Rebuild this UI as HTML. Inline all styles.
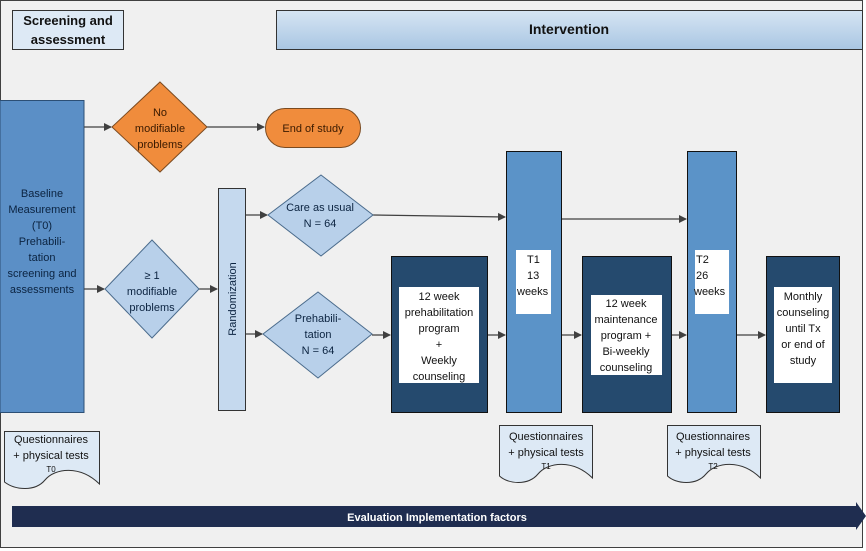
<!DOCTYPE html>
<html><head><style>body{margin:0;background:#fff}svg{display:block}text{font-family:"Liberation Sans",sans-serif}</style></head><body>
<svg width="866" height="551" viewBox="0 0 866 551" xmlns="http://www.w3.org/2000/svg">
<defs>
<linearGradient id="g1" x1="0" y1="0" x2="0" y2="1"><stop offset="0" stop-color="#d6e5f3"/><stop offset="1" stop-color="#a9c6e3"/></linearGradient>
<marker id="a" markerWidth="8" markerHeight="8" refX="7" refY="4" orient="auto" markerUnits="userSpaceOnUse"><path d="M0,0 L8,4 L0,8 Z" fill="#404040"/></marker>
</defs>
<rect x="0" y="0" width="866" height="551" fill="#fff"/>
<rect x="0.5" y="0.5" width="862" height="547" fill="#f0f0f0" stroke="#404040"/>
<rect x="12.5" y="10.5" width="111" height="39" fill="#dde9f5" stroke="#333"/>
<text x="68" y="25" font-size="13" font-weight="bold" text-anchor="middle" fill="#111">Screening and</text>
<text x="68" y="44" font-size="13" font-weight="bold" text-anchor="middle" fill="#111">assessment</text>
<rect x="276.5" y="10.5" width="586" height="39" fill="url(#g1)" stroke="#333"/>
<text x="569" y="34" font-size="14" font-weight="bold" text-anchor="middle" fill="#111">Intervention</text>

<rect x="0" y="100.5" width="84" height="312" fill="#5b8fc6" stroke="#2c4f75"/>
<g font-size="11" text-anchor="middle" fill="#0b2340">
<text x="42" y="197">Baseline</text><text x="42" y="213">Measurement</text><text x="42" y="229">(T0)</text><text x="42" y="245">Prehabili-</text><text x="42" y="261">tation</text><text x="42" y="277">screening and</text><text x="42" y="293">assessments</text></g>

<g stroke="#404040" stroke-width="1.2" fill="none">
<line x1="84" y1="127" x2="111" y2="127" marker-end="url(#a)"/>
<line x1="207" y1="127" x2="264" y2="127" marker-end="url(#a)"/>
<line x1="84" y1="289" x2="104" y2="289" marker-end="url(#a)"/>
<line x1="199" y1="289" x2="217" y2="289" marker-end="url(#a)"/>
<line x1="245" y1="215" x2="267" y2="215" marker-end="url(#a)"/>
<line x1="245" y1="334" x2="262" y2="334" marker-end="url(#a)"/>
<line x1="373" y1="215" x2="505" y2="217" marker-end="url(#a)"/>
<line x1="372" y1="335" x2="390" y2="335" marker-end="url(#a)"/>
<line x1="487" y1="335" x2="505" y2="335" marker-end="url(#a)"/>
<line x1="561" y1="219" x2="686" y2="219" marker-end="url(#a)"/>
<line x1="561" y1="335" x2="581" y2="335" marker-end="url(#a)"/>
<line x1="671" y1="335" x2="686" y2="335" marker-end="url(#a)"/>
<line x1="736" y1="335" x2="765" y2="335" marker-end="url(#a)"/>
</g>

<polygon points="160,82 207,127 160,172 112,127" fill="#f08c3c" stroke="#7a4a20"/>
<g font-size="11" text-anchor="middle" fill="#3a1a00"><text x="160" y="116">No</text><text x="160" y="132">modifiable</text><text x="160" y="148">problems</text></g>
<rect x="265.5" y="108.5" width="95" height="39" rx="19.5" fill="#f08c3c" stroke="#7a4a20"/>
<text x="313" y="132" font-size="11" text-anchor="middle" fill="#3a1a00">End of study</text>

<polygon points="152,240 199,289 152,338 105,289" fill="#b8d0ea" stroke="#4a6b8c"/>
<g font-size="11" text-anchor="middle" fill="#0b2340"><text x="152" y="279">≥ 1</text><text x="152" y="295">modifiable</text><text x="152" y="311">problems</text></g>

<rect x="218.5" y="188.5" width="27" height="222" fill="#c5d9ee" stroke="#333"/>
<text transform="translate(236,299) rotate(-90)" font-size="11" text-anchor="middle" fill="#0b2340">Randomization</text>

<polygon points="321,175 373,215 321,256 268,215" fill="#b8d0ea" stroke="#4a6b8c"/>
<g font-size="11" text-anchor="middle" fill="#0b2340"><text x="320" y="211">Care as usual</text><text x="320" y="227">N = 64</text></g>
<polygon points="318,292 372,334 318,378 263,334" fill="#b8d0ea" stroke="#4a6b8c"/>
<g font-size="11" text-anchor="middle" fill="#0b2340"><text x="318" y="322">Prehabili-</text><text x="318" y="338">tation</text><text x="318" y="354">N = 64</text></g>

<rect x="391.5" y="256.5" width="96" height="156" fill="#254a6e" stroke="#111"/>
<rect x="399" y="287" width="80" height="96" fill="#fff"/>
<g font-size="11" text-anchor="middle" fill="#111"><text x="439" y="300">12 week</text><text x="439" y="316">prehabilitation</text><text x="439" y="332">program</text><text x="439" y="348">+</text><text x="439" y="364">Weekly</text><text x="439" y="380">counseling</text></g>

<rect x="506.5" y="151.5" width="55" height="261" fill="#5b93c8" stroke="#111"/>
<rect x="516" y="250" width="35" height="64" fill="#fff"/>
<g font-size="11" fill="#111"><text x="527" y="263">T1</text><text x="527" y="279">13</text><text x="517" y="295">weeks</text></g>

<rect x="582.5" y="256.5" width="89" height="156" fill="#254a6e" stroke="#111"/>
<rect x="591" y="295" width="71" height="80" fill="#fff"/>
<g font-size="11" text-anchor="middle" fill="#111"><text x="626" y="307">12 week</text><text x="626" y="323">maintenance</text><text x="626" y="339">program +</text><text x="626" y="355">Bi-weekly</text><text x="626" y="371">counseling</text></g>

<rect x="687.5" y="151.5" width="49" height="261" fill="#5b93c8" stroke="#111"/>
<rect x="695" y="250" width="34" height="64" fill="#fff"/>
<g font-size="11" fill="#111"><text x="696" y="263">T2</text><text x="696" y="279">26</text><text x="694" y="295">weeks</text></g>

<rect x="766.5" y="256.5" width="73" height="156" fill="#254a6e" stroke="#111"/>
<rect x="774" y="287" width="58" height="96" fill="#fff"/>
<g font-size="11" text-anchor="middle" fill="#111"><text x="803" y="300">Monthly</text><text x="803" y="316">counseling</text><text x="803" y="332">until Tx</text><text x="803" y="348">or end of</text><text x="803" y="364">study</text></g>

<g fill="#dde9f5" stroke="#333">
<path d="M4.5,431.5 H99.5 V484 C80,465 55,468 45,480 C35,492 15,490 4.5,482 Z"/>
<path d="M499.5,425.5 H592.5 V478 C573,459 548,462 538,474 C528,486 508,484 499.5,476 Z"/>
<path d="M667.5,425.5 H760.5 V478 C741,459 716,462 706,474 C696,486 676,484 667.5,476 Z"/>
</g>
<g font-size="11" text-anchor="middle" fill="#111">
<text x="51" y="443">Questionnaires</text><text x="51" y="459">+ physical tests</text><text x="51" y="472" font-size="8">T0</text>
<text x="546" y="440">Questionnaires</text><text x="546" y="456">+ physical tests</text><text x="546" y="469" font-size="8">T1</text>
<text x="713" y="440">Questionnaires</text><text x="713" y="456">+ physical tests</text><text x="713" y="469" font-size="8">T2</text>
</g>

<polygon points="12,506 856,506 856,502 866,516 856,530 856,527 12,527" fill="#1f2d50"/>
<text x="437" y="521" font-size="11" font-weight="bold" text-anchor="middle" fill="#fff">Evaluation Implementation factors</text>
</svg>
</body></html>
